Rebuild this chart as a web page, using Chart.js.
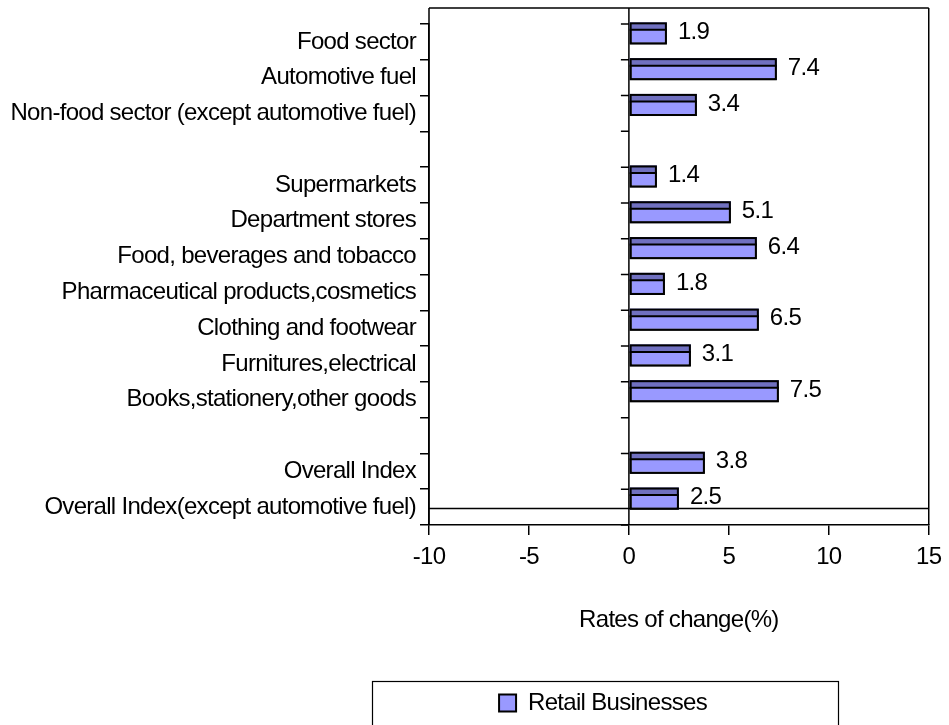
<!DOCTYPE html>
<html>
<head>
<meta charset="utf-8">
<script src="https://cdn.jsdelivr.net/npm/chart.js@4.4.0/dist/chart.umd.min.js"></script>
<style>
html,body{margin:0;padding:0;background:#ffffff;}
canvas{display:block;}
</style>
</head>
<body>
<canvas id="c" width="949" height="725"></canvas>
<script>
// ---- data ----
const categories = [
  "Food sector",
  "Automotive fuel",
  "Non-food sector (except automotive fuel)",
  "",
  "Supermarkets",
  "Department stores",
  "Food, beverages and tobacco",
  "Pharmaceutical products,cosmetics",
  "Clothing and footwear",
  "Furnitures,electrical",
  "Books,stationery,other goods",
  "",
  "Overall Index",
  "Overall Index(except automotive fuel)"
];
const retailValues = [1.9, 7.4, 3.4, null, 1.4, 5.1, 6.4, 1.8, 6.5, 3.1, 7.5, null, 3.8, 2.5];
const emptySeries = [null, null, null, null, null, null, null, null, null, null, null, null, null, null];
const seriesName = "Retail Businesses";
const xTickValues = [-10, -5, 0, 5, 10, 15];
const xTitle = "Rates of change(%)";

// ---- styles ----
const FONT = "'Liberation Sans', Arial, Helvetica, sans-serif";
const LIGHT = "#9999FF";
const DARK = "#7070C0";
const canvasEl = document.getElementById("c");
const HAS_LS = ("letterSpacing" in canvasEl.getContext("2d"));
const FS = HAS_LS ? 24 : 22;
const LS = HAS_LS ? "-0.7px" : "0px";

Chart.defaults.font.family = FONT;
Chart.defaults.font.size = FS;
Chart.defaults.color = "#000000";

// layout numbers derived from font size
const LH = FS * 1.2;
const legendH = FS + 20;
const axisBottom = 725 - legendH;
const tickPad = 557 - 535 - LH / 2;
const titlePadBottom = axisBottom - 620 - LH / 2;
const axisH = axisBottom - 525;
const titlePadTop = axisH - 10 - (LH + 2 * tickPad) - LH - titlePadBottom;

// legend frame
const LEG_BOX = { left: 372, right: 838, top: 681 };

function setSpacing(chart) { if (HAS_LS) chart.ctx.letterSpacing = LS; }

const framePlugin = {
  id: "frame",
  beforeLayout(chart) { setSpacing(chart); },
  beforeDraw(chart) { setSpacing(chart); },
  beforeDatasetsDraw(chart) {
    const { ctx, chartArea: a, scales } = chart;
    const x = scales.x, y = scales.y;
    const topY = y.getPixelForValue(-0.95);
    const zeroX = x.getPixelForValue(0);
    ctx.save();
    ctx.strokeStyle = "#000";
    ctx.lineWidth = 1.5;
    ctx.beginPath();
    ctx.moveTo(a.left, topY); ctx.lineTo(a.right, topY);
    ctx.moveTo(a.left, topY); ctx.lineTo(a.left, a.bottom);
    ctx.moveTo(a.right, topY); ctx.lineTo(a.right, a.bottom);
    ctx.moveTo(zeroX, topY); ctx.lineTo(zeroX, a.bottom);
    const hy = y.getPixelForValue(categories.length - 1) + 1.5;
    ctx.moveTo(a.left, hy); ctx.lineTo(a.right, hy);
    for (let i = 0; i <= categories.length; i++) {
      const by = y.getPixelForValue(i - 0.5);
      ctx.moveTo(zeroX - 8, by); ctx.lineTo(zeroX, by);
    }
    ctx.stroke();
    ctx.restore();
  },
  afterDraw(chart) {
    const { ctx } = chart;
    ctx.save();
    ctx.strokeStyle = "#000";
    ctx.lineWidth = 1.2;
    ctx.strokeRect(LEG_BOX.left + 0.5, LEG_BOX.top + 0.5, LEG_BOX.right - LEG_BOX.left, 80);
    ctx.restore();
  },
  afterLayout(chart) {
    const lg = chart.legend;
    if (lg && lg.legendHitBoxes && lg.legendHitBoxes.length) {
      const w = lg.width;
      const itemW = lg.legendHitBoxes[0].width;
      const pad = lg.options.labels.padding;
      const cx = (LEG_BOX.left + LEG_BOX.right) / 2;
      const left = cx - itemW / 2 - pad - 2;
      lg.left = left;
      lg.right = left + w;
    }
  }
};

const barDecorPlugin = {
  id: "barDecor",
  afterDatasetsDraw(chart) {
    const { ctx } = chart;
    const meta = chart.getDatasetMeta(0);
    ctx.save();
    meta.data.forEach((el, i) => {
      const v = retailValues[i];
      if (v === null || v === undefined) return;
      const p = el.getProps(["x", "y", "base", "height"], true);
      const left = Math.min(p.base, p.x), right = Math.max(p.base, p.x);
      const top = p.y - p.height / 2;
      const sh = p.height * 0.34;
      ctx.fillStyle = DARK;
      ctx.fillRect(left, top, right - left, sh);
      ctx.strokeStyle = "#000";
      ctx.lineWidth = 2;
      ctx.beginPath();
      ctx.moveTo(left, top + sh); ctx.lineTo(right, top + sh);
      ctx.stroke();
      ctx.strokeRect(left + 1, top + 1, right - left - 2, p.height - 2);
      ctx.fillStyle = "#000";
      ctx.font = FS + "px " + FONT;
      ctx.textAlign = "left";
      ctx.textBaseline = "middle";
      ctx.fillText(v.toFixed(1), right + 11, p.y - 1);
    });
    ctx.restore();
  }
};

new Chart(canvasEl, {
  type: "bar",
  data: {
    labels: categories,
    datasets: [
      {
        label: seriesName,
        data: retailValues,
        backgroundColor: LIGHT,
        borderColor: "#000000",
        borderWidth: 2,
        borderSkipped: false,
        categoryPercentage: 0.95,
        barPercentage: 1.3
      },
      {
        label: "",
        data: emptySeries,
        backgroundColor: LIGHT,
        borderColor: "#000000",
        borderWidth: 0,
        categoryPercentage: 0.95,
        barPercentage: 1.3
      }
    ]
  },
  options: {
    indexAxis: "y",
    responsive: false,
    animation: false,
    layout: { padding: { top: 24, right: 20, left: 0, bottom: 0 } },
    scales: {
      x: {
        type: "linear",
        position: "bottom",
        min: -10,
        max: 15,
        afterBuildTicks: (s) => { s.ticks = xTickValues.map(v => ({ value: v })); },
        ticks: { padding: tickPad, color: "#000", font: { size: FS } },
        grid: { drawOnChartArea: false, drawTicks: true, tickLength: 10, color: "#000", lineWidth: 1.5 },
        border: { display: true, color: "#000", width: 1.5 },
        title: { display: true, text: xTitle, color: "#000", font: { size: FS }, padding: { top: titlePadTop, bottom: titlePadBottom } }
      },
      y: {
        type: "category",
        offset: true,
        afterFit: (s) => { s.width = 429; },
        ticks: { padding: 4, autoSkip: false, color: "#000", font: { size: FS } },
        grid: { offset: true, drawOnChartArea: false, drawTicks: true, tickLength: 9, color: "#000", lineWidth: 1.5 },
        border: { display: true, color: "#000", width: 1.5 }
      }
    },
    plugins: {
      legend: {
        display: true,
        position: "bottom",
        align: "start",
        labels: {
          boxWidth: 17,
          boxHeight: 17,
          padding: 10,
          color: "#000",
          font: { size: FS },
          filter: (item) => item.datasetIndex === 0
        }
      },
      tooltip: { enabled: false },
      title: { display: false }
    }
  },
  plugins: [framePlugin, barDecorPlugin]
});
</script>
</body>
</html>
